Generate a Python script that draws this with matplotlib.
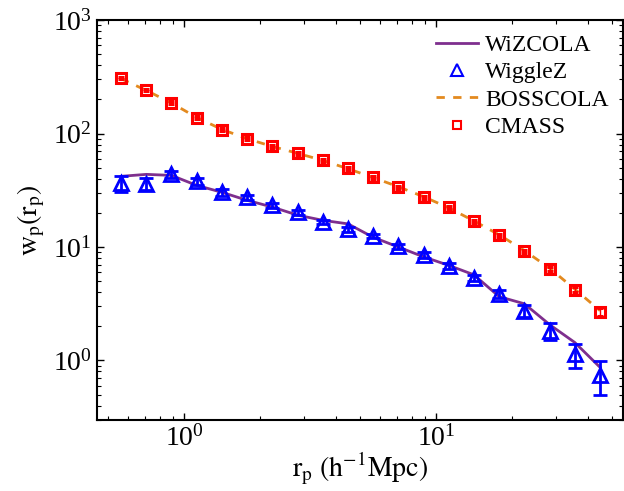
import numpy as np
import matplotlib
matplotlib.use('Agg')
import matplotlib.pyplot as plt
from matplotlib.lines import Line2D

plt.rcParams['font.family'] = ['Liberation Serif', 'DejaVu Serif']
plt.rcParams['mathtext.fontset'] = 'stix'

# projected separation bins (h^-1 Mpc)
r_p = [0.562, 0.708, 0.891, 1.12, 1.41, 1.78, 2.24, 2.82, 3.55, 4.47,
       5.62, 7.08, 8.91, 11.2, 14.1, 17.8, 22.4, 28.2, 35.5, 44.7]

wizcola = [42, 43.7, 42.8, 35, 30.4, 25.8, 22.5, 19.1, 17.2, 16.0,
           12.2, 10.0, 8.2, 6.9, 5.7, 3.65, 3.16, 2.07, 1.44, 0.87]
wigglez = [36.4, 36.0, 43.7, 38.0, 30.4, 27.5, 23.4, 20.3, 16.6, 14.4,
           12.5, 10.2, 8.5, 6.8, 5.35, 3.87, 2.75, 1.83, 1.13, 0.74]
wigglez_err = [6, 4.5, 3, 2.5, 2, 1.5, 1.2, 1.0, 0.8, 0.7,
               0.6, 0.5, 0.45, 0.4, 0.35, 0.3, 0.32, 0.3, 0.27, 0.24]

bosscola = [305, 240, 186, 139, 109, 90, 77, 67, 58, 49,
            41, 34, 27.8, 22.2, 17.0, 12.8, 9.3, 6.5, 4.25, 2.75]
cmass = [310, 243, 187, 138, 108, 90, 77, 67, 58, 49.3,
         41.1, 33.6, 27.5, 22.4, 16.9, 12.7, 9.2, 6.4, 4.2, 2.69]
cmass_err = [8, 6, 5, 4, 3, 2.5, 2, 1.8, 1.6, 1.4,
             1.2, 1.0, 0.8, 0.7, 0.5, 0.4, 0.3, 0.25, 0.2, 0.2]

purple = '#7E2F8E'
orange = '#E38A1F'

fig = plt.figure(figsize=(6.24, 4.91), dpi=100)
ax = fig.add_axes([0.155, 0.145, 0.843, 0.814])

ax.plot(r_p, wizcola, color=purple, lw=2)
ax.errorbar(r_p, wigglez, yerr=wigglez_err, fmt='^', color='blue', mfc='none',
            ms=10, mew=2, elinewidth=2, capsize=5, capthick=2)
ax.plot(r_p, bosscola, color=orange, lw=2, ls=(0, (3, 3)))
ax.errorbar(r_p, cmass, yerr=cmass_err, fmt='s', color='red', mfc='none',
            ms=7, mew=2.2, elinewidth=1, capsize=2.5)

ax.set_xscale('log')
ax.set_yscale('log')
ax.set_xlim(0.45, 55)
ax.set_ylim(0.3, 1000)

ax.tick_params(which='both', direction='in', top=True, right=True, labelsize=20)
ax.tick_params(which='major', length=5, width=1)
ax.tick_params(which='minor', length=3, width=0.8)
for s in ax.spines.values():
    s.set_linewidth(1.5)

ax.set_xlabel(r'$\mathrm{r_p\ (h^{-1}Mpc)}$', fontsize=20, labelpad=0)
ax.set_ylabel(r'$\mathrm{w_p(r_p)}$', fontsize=20, labelpad=4)

legend_handles = [
    Line2D([], [], color=purple, lw=2),
    Line2D([], [], ls='none', marker='^', color='blue', mfc='none', ms=8, mew=1.5),
    Line2D([], [], color=orange, lw=2, ls=(0, (3, 3))),
    Line2D([], [], ls='none', marker='s', color='red', mfc='none', ms=6, mew=1.5),
]
ax.legend(legend_handles, ['WiZCOLA', 'WiggleZ', 'BOSSCOLA', 'CMASS'],
          loc='upper right', frameon=False, fontsize=17, handlelength=1.8,
          labelspacing=0.25, borderaxespad=0.2, handletextpad=0.3)

fig.savefig('out.png', dpi=100)
